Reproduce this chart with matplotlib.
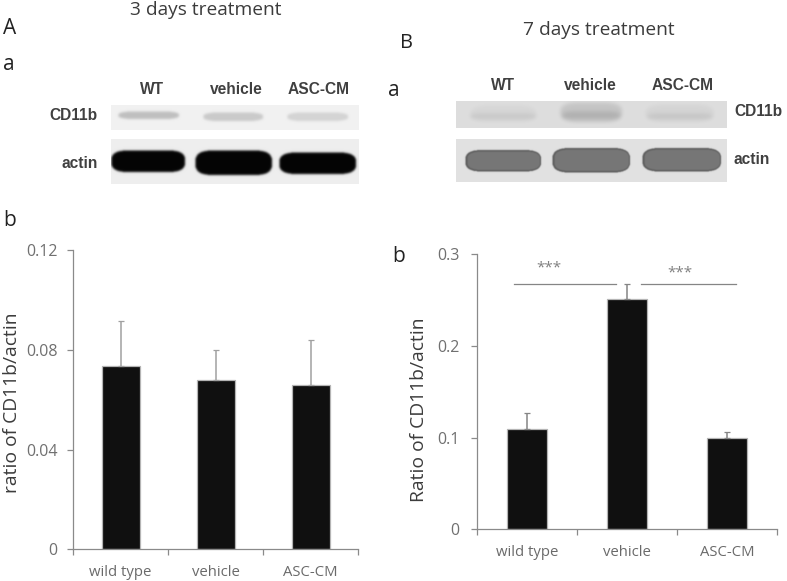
import numpy as np
import matplotlib
matplotlib.use("Agg")
import matplotlib.pyplot as plt

plt.rcParams['font.family'] = ['Open Sans', 'DejaVu Sans']

W, H = 787, 581
categories = ['wild type', 'vehicle', 'ASC-CM']
lanes_a = ['WT', 'vehicle', 'ASC-CM']

values_a = [0.0736, 0.0678, 0.0659]
upper_a = [0.0181, 0.0120, 0.0179]
ticks_a = [0, 0.04, 0.08, 0.12]
ticklabels_a = ['0', '0.04', '0.08', '0.12']

values_b = [0.109, 0.2506, 0.100]
upper_b = [0.0174, 0.0164, 0.0057]
ticks_b = [0, 0.1, 0.2, 0.3]
ticklabels_b = ['0', '0.1', '0.2', '0.3']

sig_level = 0.267
sig_spans = [(-0.135, 0.887), (1.14, 2.084)]
sig_star_x = [0.22, 1.53]
sig_star_y = [0.285, 0.279]


def axes_px(fig, left, top, right, bottom):
    return fig.add_axes([left / W, 1 - bottom / H, (right - left) / W, (bottom - top) / H])


def blur(a, s):
    r = int(3 * s) + 1
    k = np.exp(-0.5 * (np.arange(-r, r + 1) / s) ** 2)
    k /= k.sum()
    a = np.apply_along_axis(lambda v: np.convolve(np.pad(v, r, mode='edge'), k, 'valid'), 0, a)
    a = np.apply_along_axis(lambda v: np.convolve(np.pad(v, r, mode='edge'), k, 'valid'), 1, a)
    return a


def blot(canvas, box, bg, bands, sigma=1.0, p=4):
    """box = x0,y0,x1,y1 in pixels; bands = (x0,x1,y0,y1,gray,strength)."""
    x0, y0, x1, y1 = box
    yy, xx = np.mgrid[y0:y1:0.5, x0:x1:0.5]
    img = np.full(xx.shape, bg, dtype=float)
    for bx0, bx1, by0, by1, gray, st in bands:
        cx, cy = (bx0 + bx1) / 2, (by0 + by1) / 2
        rx, ry = (bx1 - bx0) / 2, (by1 - by0) / 2
        d = np.abs((xx - cx) / rx) ** p + np.abs((yy - cy) / ry) ** 2.6
        m = blur((d < 1).astype(float), sigma * 2) * st
        img = img * (1 - m) + gray * m
    canvas.imshow(img, extent=(x0, x1, y1, y0), cmap='gray', vmin=0, vmax=1,
                  aspect='auto', interpolation='bilinear', zorder=1)


fig = plt.figure(figsize=(W / 100, H / 100), dpi=100, facecolor='white')
canvas = fig.add_axes([0, 0, 1, 1])
canvas.set_xlim(0, W)
canvas.set_ylim(H, 0)
canvas.axis('off')

# Panel A blots
blot(canvas, (111, 105, 359, 130), 0.945, [
    (118, 179, 111, 119, 0.70, 0.8), (203, 263, 112, 121, 0.74, 0.75), (287, 348, 112, 121, 0.78, 0.7)], 1.2)
blot(canvas, (111, 139, 359, 184), 0.93, [
    (111, 185, 150, 172, 0.02, 1), (195, 272, 150, 175, 0.02, 1), (279, 356, 152, 174, 0.02, 1)], 1.0, 6)
# Panel B blots
blot(canvas, (456, 101, 727, 128), 0.87, [
    (470, 536, 105, 122, 0.82, 0.6), (470, 536, 113, 119, 0.75, 0.6),
    (560, 622, 102, 122, 0.73, 0.7), (562, 620, 111, 119, 0.66, 0.7),
    (645, 714, 104, 122, 0.81, 0.6), (647, 712, 113, 119, 0.75, 0.7)], 2.0)
blot(canvas, (456, 139, 727, 182), 0.88, [
    (465, 541, 149.5, 171.5, 0.36, 1), (552, 630, 147.5, 172.5, 0.36, 1), (642, 721, 147.5, 171.5, 0.36, 1)], 0.5, 6)
for bx0, bx1, by0, by1 in [(466.5, 539.5, 151, 170), (553.5, 628.5, 149, 171), (643.5, 719.5, 149, 170)]:
    cx, cy = (bx0 + bx1) / 2, (by0 + by1) / 2
    yy, xx = np.mgrid[by0 - 2:by1 + 2:0.5, bx0 - 2:bx1 + 2:0.5]
    d = np.abs((xx - cx) / ((bx1 - bx0) / 2)) ** 6 + np.abs((yy - cy) / ((by1 - by0) / 2)) ** 3
    alpha = blur((d < 1).astype(float), 1.2)
    rgba = np.dstack([np.full(xx.shape, 0.47)] * 3 + [alpha])
    canvas.imshow(rgba, extent=(bx0 - 2, bx1 + 2, by1 + 2, by0 - 2), aspect='auto', zorder=2)
canvas.set_xlim(0, W)
canvas.set_ylim(H, 0)

# Free text
dark = '#3c3c3c'
for x, y, s, fs in [(206, 10, '3 days treatment', 13.8), (599, 30, '7 days treatment', 13.8)]:
    canvas.text(x, y, s, ha='center', va='center', fontsize=fs, color=dark)
for x, y, s, fs in [(10, 29, 'A', 15), (407, 43, 'B', 14.5), (9, 65, 'a', 15), (394, 91, 'a', 15),
                    (10, 221, 'b', 15), (399, 256, 'b', 15)]:
    canvas.text(x, y, s, ha='center', va='center', fontsize=fs, color='#222222')

blot_kw = dict(family=['Liberation Sans', 'DejaVu Sans'], fontweight='bold', va='center', fontsize=11.2, color='#404040')
for x, s in zip([152, 236, 319], lanes_a):
    canvas.text(x, 89, s, ha='center', **blot_kw)
canvas.text(98, 116, 'CD11b', ha='right', **blot_kw)
canvas.text(98, 163, 'actin', ha='right', **blot_kw)
for x, s in zip([503, 590, 683], lanes_a):
    canvas.text(x, 85, s, ha='center', **blot_kw)
canvas.text(734, 112, 'CD11b', ha='left', **blot_kw)
canvas.text(734, 160, 'actin', ha='left', **blot_kw)


def bar_panel(box, values, upper, ticks, ticklabels, ymax, ylabel, ylabel_x, ylabel_y, err_color, tick_pad):
    ax = axes_px(fig, *box)
    ax.patch.set_alpha(0)
    x = np.arange(len(values))
    ax.bar(x, values, width=0.4, color='#101010', edgecolor='#b4b4b4', linewidth=0.9, zorder=2)
    ax.errorbar(x, values, yerr=[[0] * len(values), upper], fmt='none', ecolor=err_color,
                elinewidth=1.1, capsize=2.2, capthick=0.9, zorder=3)
    ax.set_xlim(-0.5, 2.5)
    ax.set_ylim(0, ymax)
    ax.set_yticks(ticks, ticklabels)
    ax.set_xticks([-0.5, 0.5, 1.5, 2.5], [''] * 4)
    ax.set_xticks(x, categories, minor=True)
    ax.tick_params(axis='x', which='major', direction='out', length=4, width=0.9, color='#8a8a8a')
    ax.tick_params(axis='x', which='minor', length=0, labelsize=10.7, labelcolor='#6a6a6a', pad=11)
    ax.tick_params(axis='y', direction='out', length=4, width=0.9, color='#8a8a8a', labelsize=11.5,
                   labelcolor='#707070', pad=tick_pad)
    for side in ('top', 'right'):
        ax.spines[side].set_visible(False)
    for side in ('left', 'bottom'):
        ax.spines[side].set_color('#8a8a8a')
        ax.spines[side].set_linewidth(0.9)
    canvas.text(ylabel_x, ylabel_y, ylabel, rotation=90, ha='center', va='center',
                fontsize=13.9, color=dark)
    return ax


ax_a = bar_panel((73, 250, 358, 549.3), values_a, upper_a, ticks_a, ticklabels_a, 0.12,
                 'ratio of CD11b/actin', 12, 403, '#a0a0a0', 7)
ax_b = bar_panel((477.3, 254, 777.3, 529.3), values_b, upper_b, ticks_b, ticklabels_b, 0.3,
                 'Ratio of CD11b/actin', 419, 410, '#858585', 9)
for x0, x1 in sig_spans:
    ax_b.plot([x0, x1], [sig_level, sig_level], color='#858585', lw=0.9, zorder=3, clip_on=False)
for x, y in zip(sig_star_x, sig_star_y):
    ax_b.text(x, y, '***', ha='center', va='center', fontsize=11, color='#808080')

fig.savefig('out.png', dpi=100)
